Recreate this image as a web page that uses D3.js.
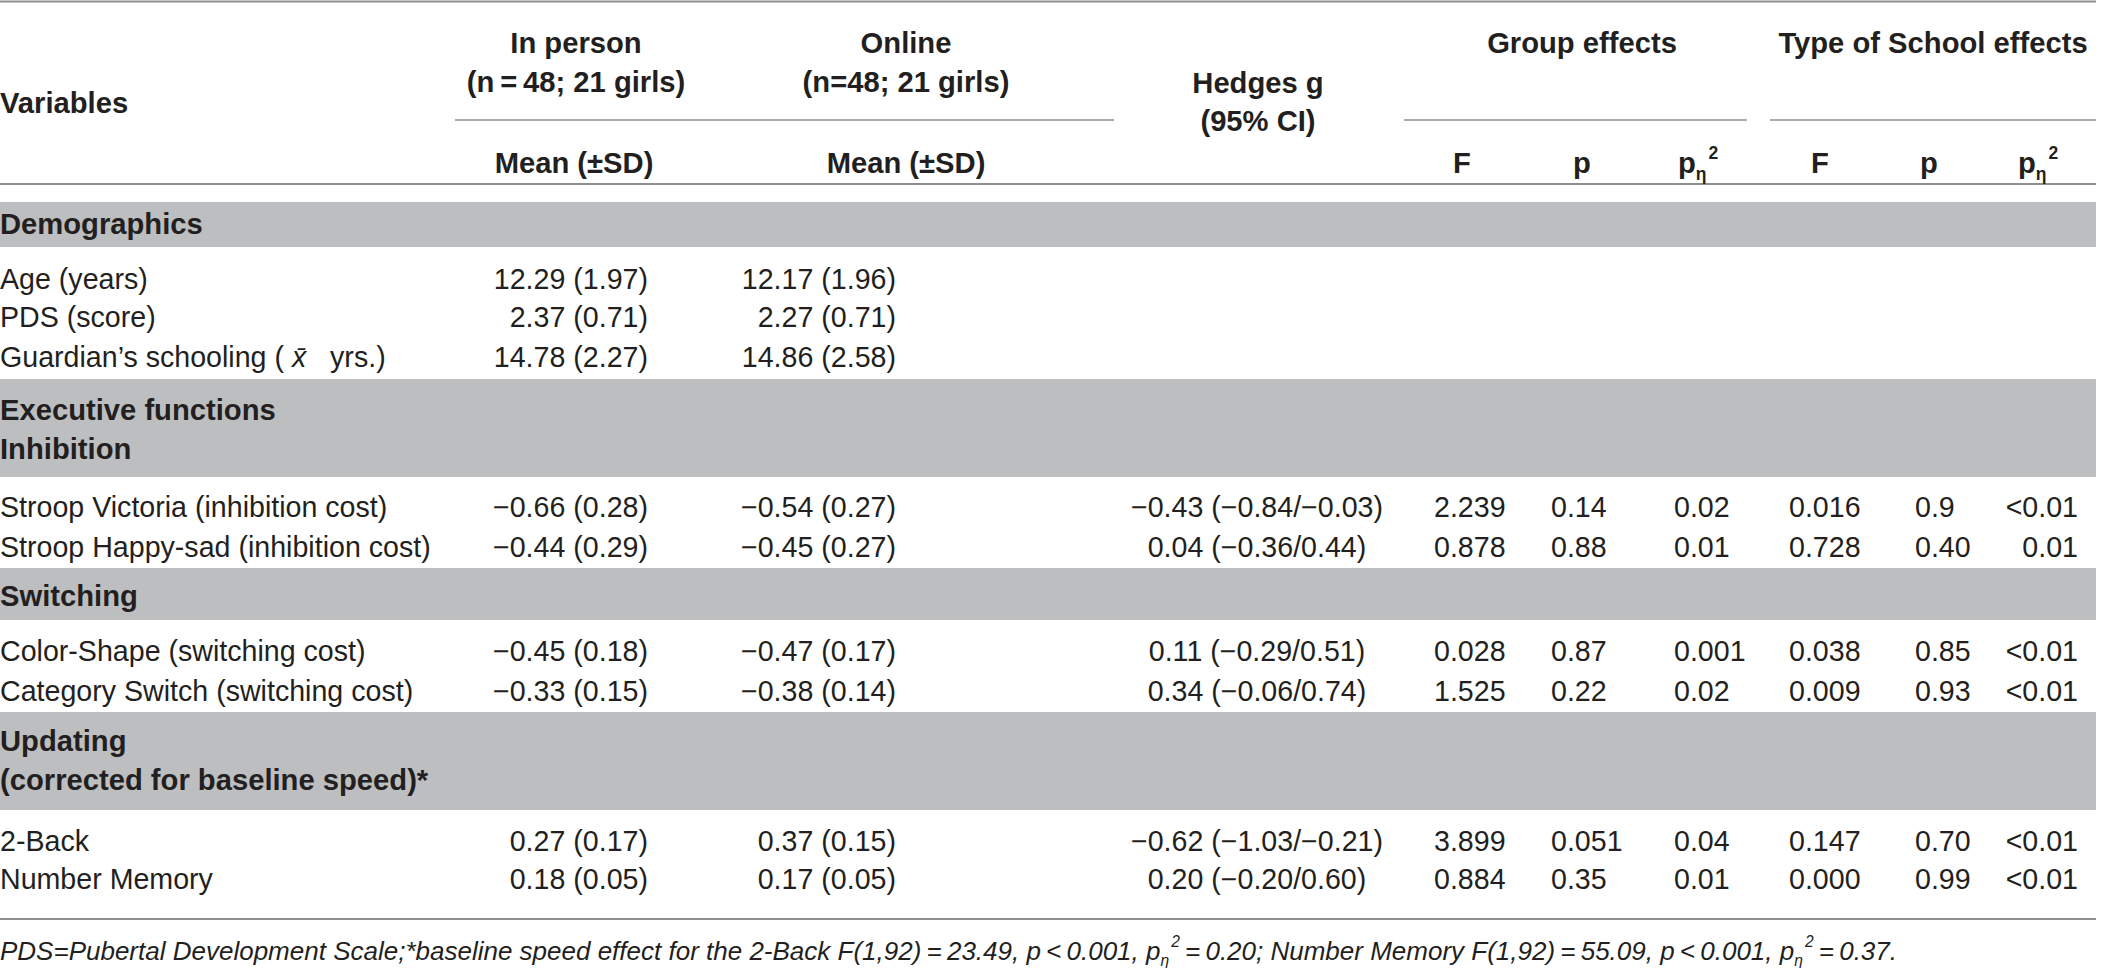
<!DOCTYPE html>
<html lang="en">
<head>
<meta charset="UTF-8">
<title>Executive functions: in person vs online</title>
<script src="https://d3js.org/d3.v7.min.js"></script>
<style>
  body { margin: 0; background: #fff; }
  text { font-family: "Liberation Sans", Arial, sans-serif; white-space: pre; }
</style>
</head>
<body>
<div id="table"></div>
<script>
// table values
const sectionTitles = [["Demographics"], ["Executive functions", "Inhibition"], ["Switching"], ["Updating", "(corrected for baseline speed)*"]];
const variables = ["Age (years)", "PDS (score)", "Guardian’s schooling", "Stroop Victoria (inhibition cost)",
  "Stroop Happy-sad (inhibition cost)", "Color-Shape (switching cost)", "Category Switch (switching cost)",
  "2-Back", "Number Memory"];
const inPersonMean = [12.29, 2.37, 14.78, -0.66, -0.44, -0.45, -0.33, 0.27, 0.18];
const inPersonSD   = [1.97, 0.71, 2.27, 0.28, 0.29, 0.18, 0.15, 0.17, 0.05];
const onlineMean   = [12.17, 2.27, 14.86, -0.54, -0.45, -0.47, -0.38, 0.37, 0.17];
const onlineSD     = [1.96, 0.71, 2.58, 0.27, 0.27, 0.17, 0.14, 0.15, 0.05];
const hedgesG  = [null, null, null, -0.43, 0.04, 0.11, 0.34, -0.62, 0.20];
const hedgesLo = [null, null, null, -0.84, -0.36, -0.29, -0.06, -1.03, -0.20];
const hedgesHi = [null, null, null, -0.03, 0.44, 0.51, 0.74, -0.21, 0.60];
const groupF     = ["", "", "", "2.239", "0.878", "0.028", "1.525", "3.899", "0.884"];
const groupP     = ["", "", "", "0.14", "0.88", "0.87", "0.22", "0.051", "0.35"];
const groupPeta  = ["", "", "", "0.02", "0.01", "0.001", "0.02", "0.04", "0.01"];
const schoolF    = ["", "", "", "0.016", "0.728", "0.038", "0.009", "0.147", "0.000"];
const schoolP    = ["", "", "", "0.9", "0.40", "0.85", "0.93", "0.70", "0.99"];
const schoolPeta = ["", "", "", "<0.01", "0.01", "<0.01", "<0.01", "<0.01", "<0.01"];

const width = 2104, height = 968, right = 2096;
const fs = 28.6, fsBold = 29.2;
const ink = "#231f20", rule = "#8f8f8f", band = "#bdbec0";

// layout (rows and columns)
const bandBoxes = [[202, 247], [379, 477], [568, 620], [712, 810]];
const bandLineY = [[224], [410, 449], [596], [741, 780]];
const rowY = d3.scaleOrdinal(d3.range(variables.length), [279, 317, 357, 507, 547, 651, 691, 841, 879]);
const cols = ["label", "inPerson", "online", "hedges", "gF", "gP", "gPe", "sF", "sP", "sPe"];
const colX = d3.scaleOrdinal(cols, [0, 648, 896, 1257, 1434, 1551, 1674, 1789, 1915, 2078]);
const colAnchor = d3.scaleOrdinal(cols, ["start", "end", "end", "middle", "start", "start", "start", "start", "start", "end"]);

const f2 = d3.format(".2f");   // d3 uses the real minus sign
const cell = {
  label: i => variables[i],
  inPerson: i => `${f2(inPersonMean[i])} (${f2(inPersonSD[i])})`,
  online: i => `${f2(onlineMean[i])} (${f2(onlineSD[i])})`,
  hedges: i => hedgesG[i] == null ? "" : `${f2(hedgesG[i])} (${f2(hedgesLo[i])}/${f2(hedgesHi[i])})`,
  gF: i => groupF[i], gP: i => groupP[i], gPe: i => groupPeta[i],
  sF: i => schoolF[i], sP: i => schoolP[i], sPe: i => schoolPeta[i]
};

const svg = d3.select("#table").append("svg")
  .attr("width", width).attr("height", height);

// text with sub/superscripts; y is the cap centre, parts are [string, kind]
function rich(g, x, y, parts, opts) {
  const t = g.append("text").attr("x", x).attr("y", y + opts.size * 0.358)
    .attr("text-anchor", opts.anchor || "start")
    .attr("font-size", opts.size).attr("font-weight", opts.weight || "normal")
    .attr("font-style", opts.italic ? "italic" : "normal").attr("fill", ink);
  let shift = 0;
  parts.forEach(([s, kind]) => {
    const ts = t.append("tspan").text(s);
    let target = 0;
    if (kind === "sub") { target = opts.size * 0.22; ts.attr("font-size", opts.size * 0.6); }
    if (kind === "sup") { target = -opts.size * 0.5; ts.attr("font-size", opts.size * 0.6).attr("dx", 2); }
    if (kind === "it") ts.attr("font-style", "italic");
    if (target !== shift) { ts.attr("dy", target - shift); shift = target; }
  });
  return t;
}
const petaParts = [["p"], ["η", "sub"], ["2", "sup"]];

// bands and rules
svg.append("g").selectAll("rect").data(bandBoxes).join("rect")
  .attr("x", 0).attr("width", right).attr("y", d => d[0]).attr("height", d => d[1] - d[0])
  .attr("fill", band);
const hr = [[0, right, 1.5, 2], [455, 1114, 120, 1.5], [1404, 1747, 120, 1.5], [1770, right, 120, 1.5],
  [0, right, 184, 2], [0, right, 919, 2]];
svg.append("g").selectAll("line").data(hr).join("line")
  .attr("x1", d => d[0]).attr("x2", d => d[1]).attr("y1", d => d[2]).attr("y2", d => d[2])
  .attr("stroke", rule).attr("stroke-width", d => d[3]);

// header
const head = svg.append("g");
const bold = { size: fsBold, weight: "bold" };
const mid = { ...bold, anchor: "middle" };
rich(head, 0, 103, [["Variables"]], bold);
rich(head, 576, 43, [["In person"]], mid);
rich(head, 576, 82, [["(n\u2009=\u200948; 21 girls)"]], mid);
rich(head, 906, 43, [["Online"]], mid);
rich(head, 906, 82, [["(n=48; 21 girls)"]], mid);
rich(head, 574, 163, [["Mean (±SD)"]], mid);
rich(head, 906, 163, [["Mean (±SD)"]], mid);
rich(head, 1258, 83, [["Hedges g"]], mid);
rich(head, 1258, 121, [["(95% CI)"]], mid);
rich(head, 1582, 43, [["Group effects"]], mid);
rich(head, 1933, 43, [["Type of School effects"]], mid);
const subHeads = [[["F"]], [["p"]], petaParts, [["F"]], [["p"]], petaParts];
const subHeadX = [1453, 1573, 1678, 1811, 1920, 2018];
subHeads.forEach((p, k) => rich(head, subHeadX[k], 163, p, bold));

// section titles
sectionTitles.forEach((lines, s) => lines.forEach((l, j) =>
  rich(svg, 0, bandLineY[s][j], [[l]], bold)));

// body cells
const body = svg.append("g");
variables.forEach((v, i) => {
  cols.forEach(c => {
    const txt = cell[c](i);
    if (!txt) return;
    let parts = [[txt]];
    if (c === "label" && i === 2) parts = [[txt + " ( "], ["x\u0304", "it"], ["   yrs.)"]];
    rich(body, colX(c), rowY(i), parts, { size: fs, anchor: colAnchor(c) });
  });
});

// footnote
const ts = "\u2009";
rich(svg, 0, 951, [
  ["PDS=Pubertal Development Scale;*baseline speed effect for the 2-Back F(1,92)" + ts + "=" + ts + "23.49, p" + ts + "<" + ts + "0.001, p"],
  ["η", "sub"], ["2", "sup"],
  [ts + "=" + ts + "0.20; Number Memory F(1,92)" + ts + "=" + ts + "55.09, p" + ts + "<" + ts + "0.001, p"],
  ["η", "sub"], ["2", "sup"], [ts + "=" + ts + "0.37."]
], { size: 26, italic: true });
</script>
</body>
</html>
